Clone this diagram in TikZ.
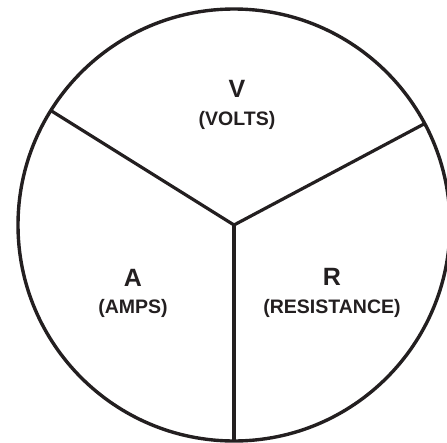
\documentclass[tikz,border=0pt]{standalone}
\usepackage{fontspec}
\setmainfont{Liberation Sans}
\newfontfamily\lbold{Liberation Sans Bold}
\definecolor{ink}{HTML}{231F20}
\begin{document}
\begin{tikzpicture}[x=1pt,y=-1pt,
  wheel/.style={circle,draw=ink,line width=3.4pt,minimum size=432pt,inner sep=0pt,outer sep=0pt},
  spoke/.style={draw=ink,line width=3.2pt,line join=miter},
  big/.style={anchor=base,text=ink,font=\lbold\fontsize{25}{25}\selectfont,inner sep=0pt},
  small/.style={anchor=base,text=ink,font=\lbold\fontsize{19.5}{20}\selectfont,inner sep=0pt}]
\useasboundingbox (0,0) rectangle (447,442);
\coordinate (c) at (234,225);
\node[wheel] (circ) at (c) {};
\draw[spoke] (circ.148.4) -- (c) -- (circ.28);
\draw[spoke] (c) -- (circ.south);
\node[big] (v) at (237,97) {V};
\node[small] (vt) at (237,125) {(VOLTS)};
\node[big] (a) at (133,286) {A};
\node[small] (at) at (133,313) {(AMPS)};
\node[big] (r) at (332,285) {R};
\node[small] (rt) at (332,313) {(RESISTANCE)};
\end{tikzpicture}
\end{document}
